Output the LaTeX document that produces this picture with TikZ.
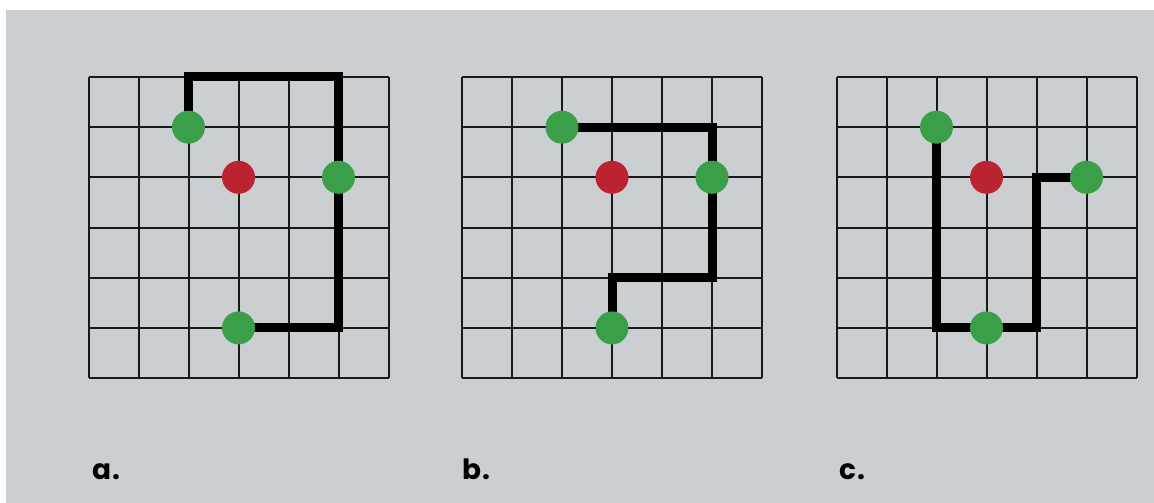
\documentclass[tikz,border=0pt]{standalone}
\usepackage{fontspec}
\setmainfont{Poppins}
\usetikzlibrary{backgrounds}

\definecolor{panelgray}{HTML}{CBCFD2}
\definecolor{dotgreen}{HTML}{3B9E48}
\definecolor{dotred}{HTML}{BC2330}

\tikzset{
  cell/.style={line width=2pt, black!90},
  route/.style={line width=9pt, black},
  greendot/.style={circle, fill=dotgreen, inner sep=0pt, minimum size=33pt},
  reddot/.style={circle, fill=dotred, inner sep=0pt, minimum size=33pt},
  tag/.style={anchor=base west, inner sep=0pt, font=\fontsize{28}{32}\selectfont\bfseries}
}

\begin{document}
\begin{tikzpicture}[x=1pt,y=-1pt]
\useasboundingbox (0,0) rectangle (1154,503);

\begin{scope}[on background layer]
% Backdrop
\fill[panelgray] (6,10) rectangle (1154,503);
% Grids
\foreach \ox in {88.5,462,836.5}{
  \foreach \i in {0,...,6}{
    \draw[cell] (\ox+\i*50,77) -- (\ox+\i*50,378);
    \draw[cell] (\ox,77+\i*50.17) -- (\ox+300,77+\i*50.17);
  }
}
\end{scope}

% Dots
\foreach \ox/\p in {88.5/a,462/b,836.5/c}{
  \node[reddot] (\p-red) at (\ox+150,177.3) {};
  \node[greendot] (\p-g1) at (\ox+100,127.2) {};
  \node[greendot] (\p-g2) at (\ox+150,327.9) {};
  \node[greendot] (\p-g3) at (\ox+250,177.3) {};
}

% Routes
\begin{scope}[on background layer]
\draw[route] (a-g1.center) -- ++(0,-50.2) -| (a-g3.center) |- (a-g2.center);
\draw[route] (b-g1.center) -| (b-g3.center) -- ++(0,100.3) -| (b-g2.center);
\draw[route] (c-g1.center) |- (c-g2.center) -- ++(50,0) |- (c-g3.center);
\end{scope}

% Labels
\node[tag] (a-lab) at (92,479.5) {a\kern1pt.};
\node[tag] (b-lab) at (462,479.5) {b\kern1pt.};
\node[tag] (c-lab) at (839,479.5) {c\kern1pt.};

\end{tikzpicture}
\end{document}
